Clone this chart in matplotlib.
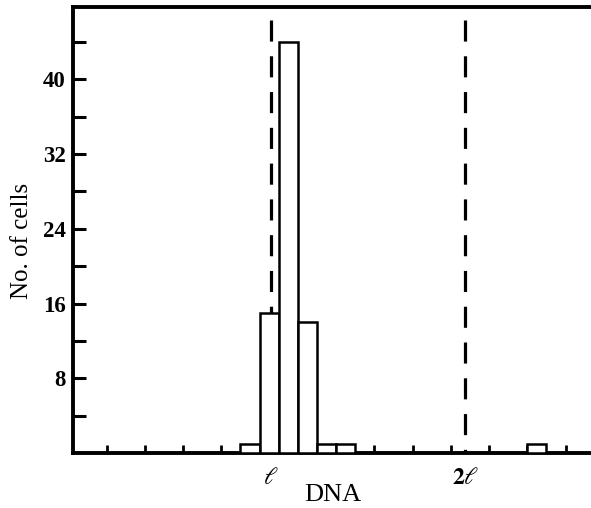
import matplotlib
matplotlib.use("Agg")
import matplotlib.pyplot as plt
import matplotlib.transforms as mtransforms
from matplotlib.ticker import FixedLocator, NullFormatter

# Data (x in histogram-tick units)
bin_left = [4.5, 5.0, 5.5, 6.0, 6.5, 7.0, 12.0]
counts = [1, 15, 44, 14, 1, 1, 1]
bin_width = 0.5
ref_positions = [5.30, 10.38]
ref_labels = [r"$\ell$", r"$\mathbf{2}\ell$"]
y_major = [8, 16, 24, 32, 40]
y_minor = [4, 12, 20, 28, 36, 44]
x_ticks = list(range(1, 14))

plt.rcParams['font.family'] = ['Liberation Serif', 'DejaVu Serif']
plt.rcParams['mathtext.fontset'] = 'stix'

fig = plt.figure(figsize=(5.91, 5.08), dpi=100)
ax = fig.add_axes([72.5/591, 1-453/508, 1-72.5/591 + 0.01, (453-7)/508])

ax.bar(bin_left, counts, width=bin_width, align='edge', facecolor='white',
       edgecolor='black', linewidth=1.8, zorder=3)

for xp in ref_positions:
    ax.plot([xp, xp], [46.4, 0], color='black', linewidth=2.3,
            linestyle=(0, (6.6, 4.6)), zorder=2, solid_capstyle='butt')

ax.set_xlim(0.108, 13.82)
ax.set_ylim(0, 47.75)

for s in ['left', 'top', 'bottom']:
    ax.spines[s].set_linewidth(2.8)
ax.spines['right'].set_visible(False)

ax.yaxis.set_major_locator(FixedLocator(y_major))
ax.yaxis.set_minor_locator(FixedLocator(y_minor))
ax.yaxis.set_minor_formatter(NullFormatter())
ax.set_yticklabels([str(v) for v in y_major], fontweight='bold')
ax.xaxis.set_major_locator(FixedLocator(x_ticks))
ax.xaxis.set_major_formatter(NullFormatter())

ax.tick_params(axis='y', which='both', direction='in', length=9, width=2.2,
               pad=5, labelsize=16.5)
ax.tick_params(axis='x', which='both', direction='in', length=6, width=2.0)

blend = mtransforms.blended_transform_factory(ax.transData, fig.transFigure)
for xp, lab in zip(ref_positions, ref_labels):
    ax.text(xp, 1-479/508, lab, ha='center', va='center', fontsize=17,
            transform=blend, clip_on=False)

ax.text(332.5/591, 1-495/508, "DNA", ha='center', va='center', fontsize=19,
        transform=fig.transFigure)
ax.text(22/591, 1-241/508, "No. of cells", ha='center', va='center',
        fontsize=18, rotation=90, transform=fig.transFigure)

fig.savefig("out.png", dpi=100)
